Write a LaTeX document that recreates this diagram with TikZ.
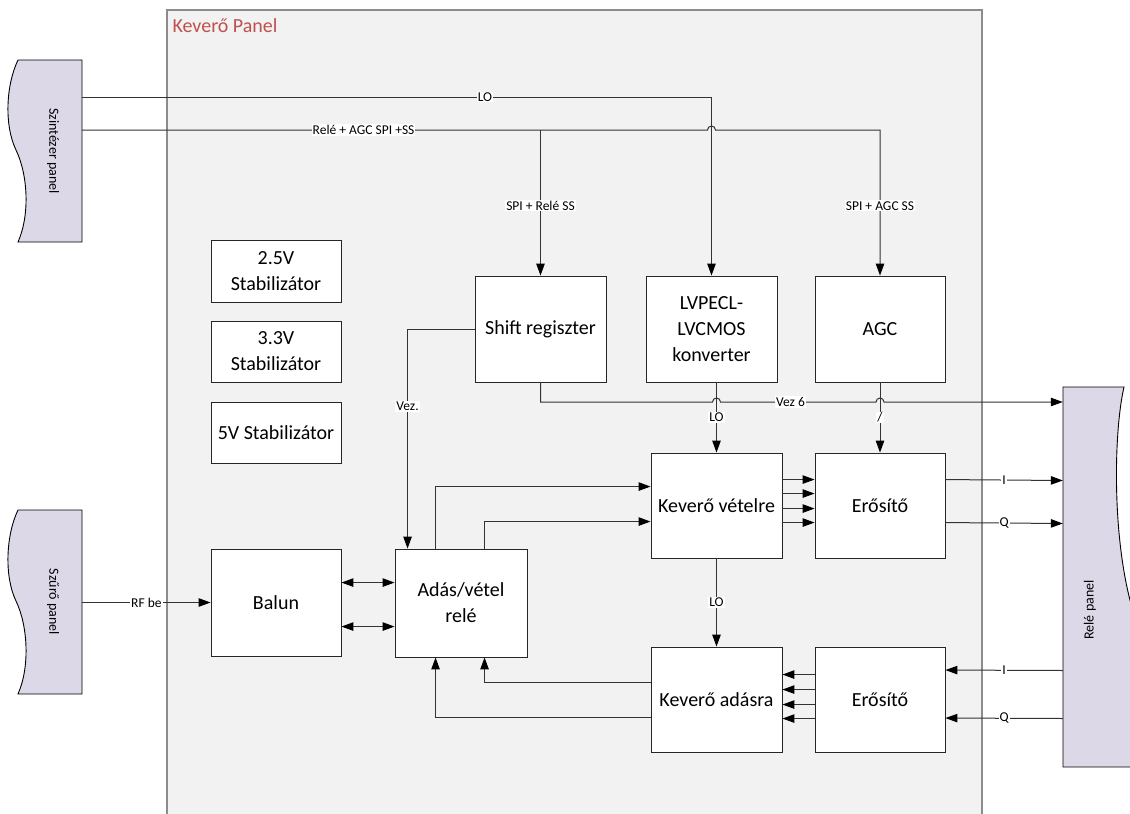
\documentclass[tikz,border=0pt]{standalone}
\usepackage{fontspec}
\setmainfont{Carlito}
\usetikzlibrary{arrows.meta,calc}
\definecolor{panelbg}{HTML}{F2F2F2}
\definecolor{panelrim}{HTML}{8C8C8C}
\definecolor{tapefill}{HTML}{DCD8E7}
\definecolor{titlered}{HTML}{C0504D}
\definecolor{wire}{HTML}{333333}
\tikzset{
  blk/.style={draw=black!85, fill=white, line width=0.9pt, align=center,
    font=\fontsize{20}{26}\selectfont, inner sep=2pt},
  anchorbox/.style={draw=none, inner sep=0pt},
  tape/.style={draw=black, fill=tapefill, line width=0.9pt},
  tapetext/.style={font=\fontsize{14}{16}\selectfont},
  conn/.style={draw=wire, line width=1pt},
  tip/.style={-{Triangle[length=12pt,width=8.5pt,color=black,fill=black]}},
  tips/.style={{Triangle[length=12pt,width=8.5pt,color=black,fill=black]}-{Triangle[length=12pt,width=8.5pt,color=black,fill=black]}},
  lbl/.style={fill=white, inner sep=1pt, font=\fontsize{13.5}{15}\selectfont, text=black},
}
\begin{document}
\begin{tikzpicture}[x=1pt, y=-1pt]
\useasboundingbox (0,0) rectangle (1130,814);

% mixer board outline
\fill[panelbg] (167,10) rectangle (982,830);
\draw[panelrim, line width=1.1pt] (167,830) -- (167,10) -- (982,10) -- (982,830);
\node[anchor=west, text=titlered, font=\fontsize{20}{24}\selectfont] (title) at (169,26) {Keverő Panel};

% external boards (tape shapes)
\node[anchorbox, minimum width=72pt, minimum height=182pt] (szint) at (46,151) {};
\draw[tape] (18,60) -- (82,60) -- (82,242) -- (18,242)
  .. controls (30,215) and (28,175) .. (16,150)
  .. controls (4,125) and (6,85) .. (18,60) -- cycle;
\node[tapetext, rotate=-90] (szinttext) at (53,151) {Szintézer panel};

\node[anchorbox, minimum width=72pt, minimum height=184pt] (szuro) at (46,602) {};
\draw[tape] (18,510) -- (82,510) -- (82,694) -- (18,694)
  .. controls (30,667) and (28,626) .. (16,601)
  .. controls (4,576) and (6,535) .. (18,510) -- cycle;
\node[tapetext, rotate=-90] (szurotext) at (53,602) {Szűrő panel};

\node[anchorbox, minimum width=66pt, minimum height=380pt] (rele) at (1096,577) {};
\draw[tape] (1063,387) -- (1124,387)
  .. controls (1114,430) and (1112,530) .. (1130,600)
  .. controls (1145,660) and (1145,720) .. (1140,767) -- (1063,767) -- cycle;
\node[tapetext, rotate=90] (reletext) at (1090,610) {Relé panel};

% regulators
\node[blk, minimum width=130pt, minimum height=62pt] (stabA) at (276,271) {2.5V\\Stabilizátor};
\node[blk, minimum width=130pt, minimum height=61pt] (stabB) at (276,351.5) {3.3V\\Stabilizátor};
\node[blk, minimum width=130pt, minimum height=61pt] (stabC) at (276,432.5) {5V Stabilizátor};

% functional blocks
\node[blk, minimum width=131pt, minimum height=106pt] (shift) at (540.5,329) {Shift regiszter};
\node[blk, minimum width=131pt, minimum height=106pt] (lvp) at (711.5,329) {LVPECL-\\LVCMOS\\konverter};
\node[blk, minimum width=130pt, minimum height=106pt] (agc) at (880,329) {AGC};
\node[blk, minimum width=131pt, minimum height=105pt] (kv) at (716.5,505.5) {Keverő vételre};
\node[blk, minimum width=130pt, minimum height=105pt] (erA) at (880,505.5) {Erősítő};
\node[blk, minimum width=130pt, minimum height=107pt] (balun) at (276,602.5) {Balun};
\node[blk, minimum width=132pt, minimum height=108pt] (adas) at (461,603) {Adás/vétel\\relé};
\node[blk, minimum width=131pt, minimum height=105pt] (ka) at (716.5,699.5) {Keverő adásra};
\node[blk, minimum width=130pt, minimum height=105pt] (erB) at (880,699.5) {Erősítő};

% LO from synthesizer
\draw[conn, tip] (szint.east |- 0,97) -- node[lbl, pos=0.64] {LO} (lvp.north |- 0,97) -- (lvp.north);

% control bus from synthesizer
\draw[conn, tip] (szint.east |- 0,130) -- node[lbl, pos=0.45] {Relé + AGC SPI +SS}
  ($(lvp.north |- 0,130)+(-4,0)$) arc (180:360:4)
  -- (agc.north |- 0,130) -- node[lbl, pos=0.52] {SPI + AGC SS} (agc.north);
\draw[conn, tip] (shift.north |- 0,130) -- node[lbl, pos=0.52] {SPI + Relé SS} (shift.north);

% shift register outputs
\draw[conn, tip] (shift.west) -| node[lbl, pos=0.676] {Vez.} ($(adas.north west)+(13,0)$);
\draw[conn, tip] (shift.south) -- (shift.south |- 0,402)
  -- ($(kv.north |- 0,402)+(-4,0)$) arc (180:360:4)
  -- node[lbl, pos=0.45] {Vez 6} ($(agc.south |- 0,402)+(-4,0)$) arc (180:360:4)
  -- (rele.west |- 0,402);

% LO and AGC into receive chain
\draw[conn, tip] (kv.north |- lvp.south) -- node[lbl] {LO} (kv.north);
\draw[conn, tip] (agc.south) -- node[lbl] {/} (erA.north);
\draw[conn, tip] (kv.south) -- node[lbl] {LO} (ka.north);

% relay to receive mixer
\draw[conn, tip] ($(adas.north west)+(41,0)$) |- ($(kv.north west)+(0,34)$);
\draw[conn, tip] ($(adas.north west)+(90,0)$) |- ($(kv.north west)+(0,69)$);

% transmit mixer back to relay
\draw[conn, tip] ($(ka.north west)+(0,36)$) -| ($(adas.south west)+(90,0)$);
\draw[conn, tip] ($(ka.north west)+(0,71)$) -| ($(adas.south west)+(41,0)$);

% receive mixer to amplifier
\foreach \d in {27,41,56,70}
  \draw[conn, tip] ($(kv.north east)+(0,\d)$) -- ($(erA.north west)+(0,\d)$);

% transmit amplifier to mixer
\foreach \d in {28,43,58,72}
  \draw[conn, tip] ($(erB.north west)+(0,\d)$) -- ($(ka.north east)+(0,\d)$);

% I/Q to and from relay board
\draw[conn, tip] ($(erA.north east)+(0,27)$) -- node[lbl] {I} (rele.west |- 0,480.5);
\draw[conn, tip] ($(erA.north east)+(0,70)$) -- node[lbl] {Q} (rele.west |- 0,523.5);
\draw[conn, tip] (rele.west |- 0,670.5) -- node[lbl] {I} ($(erB.north east)+(0,23.5)$);
\draw[conn, tip] (rele.west |- 0,718.5) -- node[lbl] {Q} ($(erB.north east)+(0,71.5)$);

% balun and relay
\draw[conn, tips] ($(balun.north east)+(0,34)$) -- ($(adas.north west)+(0,34)$);
\draw[conn, tips] ($(balun.north east)+(0,78)$) -- ($(adas.north west)+(0,78)$);

% RF input
\draw[conn, tip] (szuro.east |- balun.west) -- node[lbl] {RF be} (balun.west);
\end{tikzpicture}
\end{document}
